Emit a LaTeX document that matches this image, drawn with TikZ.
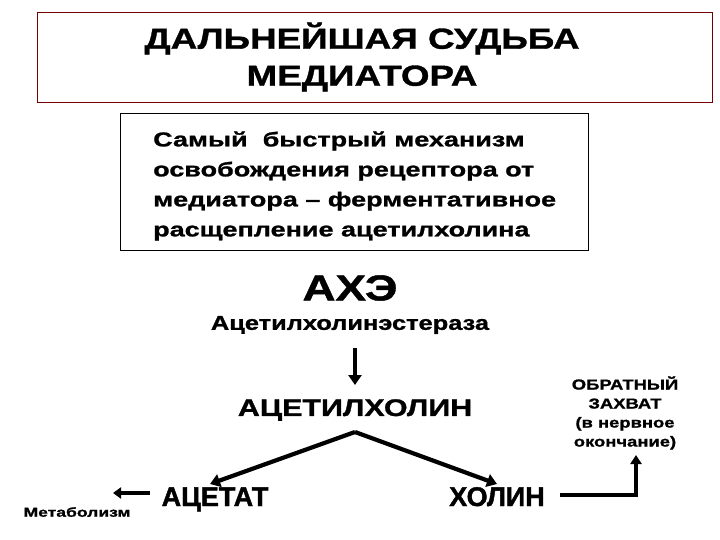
\documentclass[tikz,border=0pt]{standalone}
\usepackage{fontspec}
\setmainfont{Liberation Sans}
\newfontfamily\wide[FakeStretch=1.27,FakeBold=1.2]{Liberation Sans Bold}
\newfontfamily\widet[FakeStretch=1.35,FakeBold=1.2]{Liberation Sans Bold}
\newfontfamily\heavy[FakeBold=1.5]{Liberation Sans Bold}
\usetikzlibrary{arrows.meta}
\begin{document}
\begin{tikzpicture}[x=1pt,y=-1pt,
  lbl/.style={inner sep=0pt, align=center},
  arr/.style={line width=4.2pt,-{Triangle[length=10pt,width=13pt]}}]
\useasboundingbox (0,0) rectangle (720,540);
\draw[color=red!45!black, line width=0.6pt] (37,12) rectangle (712,102);
\node[lbl, font=\fontsize{29}{37}\selectfont\wide] (title) at (362,57) {ДАЛЬНЕЙШАЯ СУДЬБА\\МЕДИАТОРА};
\draw[line width=0.6pt] (120,113) rectangle (588,250);
\node[lbl, align=left, anchor=west, font=\fontsize{20}{30}\selectfont\widet] (desc) at (153,186) {Самый~ быстрый механизм\\освобождения рецептора от\\медиатора – ферментативное\\расщепление ацетилхолина};
\node[lbl, font=\fontsize{36}{40}\selectfont\wide] (ache) at (350,288) {АХЭ};
\node[lbl, font=\fontsize{20}{24}\selectfont\wide] (enz) at (350,325) {Ацетилхолинэстераза};
\coordinate (d1) at (355,348);
\coordinate (d2) at (355,385);
\draw[arr] (d1) -- (d2);
\node[lbl, font=\fontsize{24}{28}\selectfont\wide] (ach) at (355,410) {АЦЕТИЛХОЛИН};
\coordinate (apex) at (355,432);
\node[lbl, anchor=base, font=\fontsize{27}{30}\selectfont\heavy] (acet) at (215,506) {АЦЕТАТ};
\node[lbl, anchor=base, font=\fontsize{27}{30}\selectfont\heavy] (chol) at (497,506) {ХОЛИН};
\coordinate (la) at (210,484);
\coordinate (ra) at (497,484);
\draw[arr] (apex) -- (la);
\draw[arr] (apex) -- (ra);
\node[lbl, font=\fontsize{13}{15}\selectfont\widet] (met) at (77,512) {Метаболизм};
\coordinate (m1) at (150,493);
\coordinate (m2) at (113,493);
\draw[line width=4pt,-{Triangle[length=8pt,width=11pt]}] (m1) -- (m2);
\node[lbl, font=\fontsize{14.5}{19}\selectfont\wide] (re) at (625,413) {ОБРАТНЫЙ\\ЗАХВАТ\\(в нервное\\окончание)};
\coordinate (c1) at (560,495);
\coordinate (c2) at (636,495);
\coordinate (c3) at (636,455);
\draw[line width=4pt,-{Triangle[length=9pt,width=11pt]}] (c1) -- (c2) -- (c3);
\end{tikzpicture}
\end{document}
